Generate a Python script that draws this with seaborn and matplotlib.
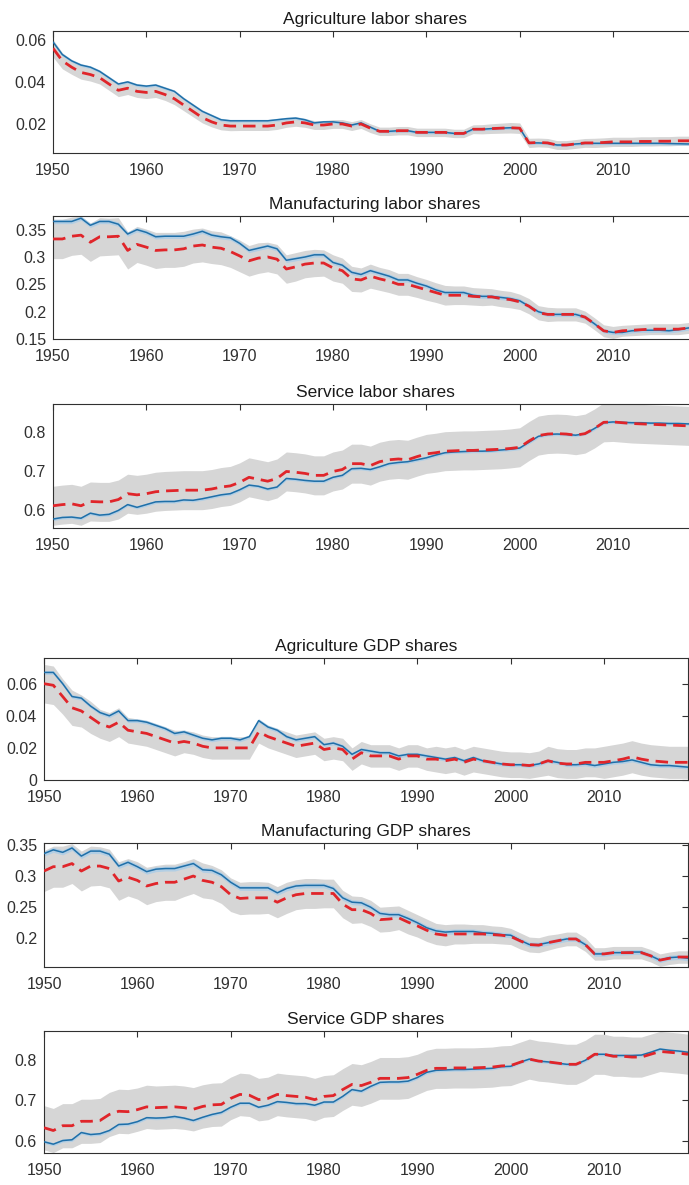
import numpy as np
import pandas as pd
import matplotlib
matplotlib.use("Agg")
import matplotlib.pyplot as plt
import seaborn as sns
from matplotlib.ticker import FuncFormatter

years = list(range(1950, 2020))

# ---------------- labor shares ----------------
ag_lab_blue = [0.059, 0.053, 0.050, 0.048, 0.047, 0.045, 0.042, 0.039, 0.040, 0.0385,
               0.038, 0.0385, 0.037, 0.0355, 0.032, 0.029, 0.026, 0.024, 0.022, 0.0215,
               0.0215, 0.0215, 0.0215, 0.0215, 0.022, 0.0225, 0.0228, 0.022, 0.0205, 0.021,
               0.021, 0.0205, 0.0195, 0.0205, 0.0185, 0.0165, 0.0165, 0.0168, 0.0168, 0.016,
               0.016, 0.016, 0.016, 0.0155, 0.0155, 0.0175, 0.0175, 0.0178, 0.018, 0.0182,
               0.018, 0.011, 0.011, 0.0108, 0.010, 0.010, 0.0105, 0.0108, 0.0108, 0.0108,
               0.0108, 0.0108, 0.0108, 0.0108, 0.0108, 0.0108, 0.0107, 0.0106, 0.0105, 0.0105]
ag_lab_red = [0.056, 0.050, 0.047, 0.0445, 0.0435, 0.042, 0.039, 0.036, 0.037, 0.0355,
              0.035, 0.0355, 0.034, 0.032, 0.029, 0.026, 0.023, 0.021, 0.0195, 0.019,
              0.019, 0.019, 0.019, 0.019, 0.0195, 0.0205, 0.021, 0.0205, 0.0195, 0.0195,
              0.020, 0.020, 0.019, 0.020, 0.018, 0.0165, 0.0165, 0.0168, 0.0168, 0.016,
              0.016, 0.016, 0.016, 0.0155, 0.0155, 0.0175, 0.0175, 0.0178, 0.018, 0.0182,
              0.018, 0.011, 0.0112, 0.011, 0.010, 0.010, 0.0105, 0.011, 0.011, 0.0112,
              0.0115, 0.0115, 0.0115, 0.0117, 0.0117, 0.0118, 0.0118, 0.012, 0.012, 0.012]
ag_lab_band = [0.0042, 0.0038, 0.0034, 0.0032, 0.0031, 0.0030, 0.0030, 0.0030, 0.0030, 0.0029,
               0.0029, 0.0029, 0.0028, 0.0028, 0.0027, 0.0026, 0.0025, 0.0024, 0.0023, 0.0022,
               0.0021, 0.0021, 0.0021, 0.0021, 0.0021, 0.0021, 0.0021, 0.0021, 0.0021, 0.0021,
               0.0021, 0.0021, 0.0021, 0.0021, 0.0021, 0.0020, 0.0020, 0.0020, 0.0020, 0.0020,
               0.0020, 0.0020, 0.0020, 0.0020, 0.0020, 0.0021, 0.0022, 0.0023, 0.0024, 0.0025,
               0.0025, 0.0022, 0.0021, 0.0021, 0.0021, 0.0021, 0.0021, 0.0021, 0.0022, 0.0022,
               0.0022, 0.0022, 0.0022, 0.0022, 0.0022, 0.0022, 0.0022, 0.0022, 0.0022, 0.0022]

mf_lab_blue = [0.365, 0.365, 0.365, 0.371, 0.358, 0.365, 0.365, 0.36, 0.342, 0.35,
               0.345, 0.337, 0.338, 0.338, 0.338, 0.342, 0.347, 0.34, 0.337, 0.335,
               0.325, 0.312, 0.316, 0.32, 0.315, 0.294, 0.297, 0.30, 0.304, 0.304,
               0.29, 0.285, 0.272, 0.268, 0.275, 0.27, 0.265, 0.258, 0.258, 0.252,
               0.247, 0.24, 0.235, 0.235, 0.235, 0.23, 0.228, 0.228, 0.226, 0.224,
               0.22, 0.21, 0.20, 0.195, 0.195, 0.195, 0.195, 0.19, 0.178, 0.165,
               0.162, 0.162, 0.165, 0.166, 0.166, 0.166, 0.165, 0.167, 0.17, 0.172]
mf_lab_red = [0.333, 0.333, 0.338, 0.34, 0.327, 0.337, 0.337, 0.338, 0.312, 0.323,
              0.318, 0.312, 0.313, 0.313, 0.315, 0.32, 0.322, 0.318, 0.316, 0.31,
              0.302, 0.293, 0.298, 0.30, 0.296, 0.278, 0.282, 0.287, 0.289, 0.289,
              0.28, 0.275, 0.26, 0.258, 0.265, 0.26, 0.256, 0.25, 0.25, 0.245,
              0.24, 0.235, 0.23, 0.23, 0.23, 0.228, 0.227, 0.227, 0.224, 0.222,
              0.218, 0.21, 0.198, 0.195, 0.195, 0.195, 0.195, 0.19, 0.178, 0.165,
              0.162, 0.165, 0.166, 0.167, 0.168, 0.168, 0.168, 0.168, 0.17, 0.172]
mf_lab_band = [0.036, 0.036, 0.035, 0.035, 0.035, 0.035, 0.034, 0.034, 0.034, 0.033,
               0.033, 0.033, 0.032, 0.032, 0.032, 0.031, 0.031, 0.030, 0.030, 0.029,
               0.029, 0.028, 0.028, 0.027, 0.027, 0.026, 0.026, 0.025, 0.025, 0.024,
               0.024, 0.023, 0.023, 0.022, 0.022, 0.021, 0.021, 0.020, 0.020, 0.019,
               0.019, 0.018, 0.018, 0.017, 0.017, 0.016, 0.016, 0.015, 0.015, 0.015,
               0.014, 0.014, 0.013, 0.013, 0.012, 0.012, 0.012, 0.011, 0.011, 0.011,
               0.011, 0.010, 0.010, 0.010, 0.010, 0.010, 0.010, 0.010, 0.010, 0.010]

sv_lab_blue = [0.578, 0.582, 0.583, 0.580, 0.593, 0.588, 0.590, 0.600, 0.615, 0.608,
               0.615, 0.622, 0.623, 0.623, 0.627, 0.626, 0.63, 0.635, 0.64, 0.643,
               0.653, 0.665, 0.662, 0.655, 0.66, 0.682, 0.68, 0.677, 0.675, 0.675,
               0.685, 0.69, 0.707, 0.708, 0.705, 0.712, 0.72, 0.723, 0.725, 0.73,
               0.735, 0.742, 0.748, 0.75, 0.751, 0.752, 0.752, 0.753, 0.755, 0.757,
               0.76, 0.775, 0.79, 0.795, 0.796, 0.795, 0.793, 0.797, 0.81, 0.825,
               0.827, 0.826, 0.825, 0.825, 0.824, 0.824, 0.823, 0.823, 0.822, 0.822]
sv_lab_red = [0.612, 0.615, 0.617, 0.612, 0.623, 0.622, 0.622, 0.628, 0.643, 0.64,
              0.643, 0.648, 0.65, 0.651, 0.652, 0.652, 0.652, 0.655, 0.66, 0.663,
              0.672, 0.685, 0.68, 0.675, 0.682, 0.70, 0.698, 0.695, 0.69, 0.69,
              0.70, 0.705, 0.72, 0.72, 0.715, 0.725, 0.73, 0.732, 0.73, 0.738,
              0.745, 0.748, 0.752, 0.753, 0.754, 0.754, 0.755, 0.756, 0.757, 0.759,
              0.762, 0.778, 0.792, 0.796, 0.797, 0.796, 0.793, 0.797, 0.81, 0.826,
              0.827, 0.825, 0.823, 0.822, 0.821, 0.820, 0.819, 0.818, 0.817, 0.815]
sv_lab_band = [0.050, 0.050, 0.050, 0.050, 0.050, 0.050, 0.050, 0.050, 0.050, 0.050,
               0.050, 0.050, 0.050, 0.050, 0.050, 0.050, 0.050, 0.050, 0.050, 0.050,
               0.050, 0.050, 0.050, 0.050, 0.050, 0.050, 0.050, 0.050, 0.050, 0.050,
               0.050, 0.050, 0.050, 0.050, 0.050, 0.050, 0.050, 0.050, 0.050, 0.050,
               0.050, 0.050, 0.050, 0.050, 0.050, 0.050, 0.050, 0.050, 0.050, 0.050,
               0.050, 0.050, 0.050, 0.050, 0.050, 0.050, 0.050, 0.050, 0.050, 0.050,
               0.050, 0.050, 0.050, 0.050, 0.050, 0.050, 0.050, 0.050, 0.050, 0.050]

# ---------------- GDP shares ----------------
ag_gdp_blue = [0.067, 0.067, 0.060, 0.052, 0.051, 0.046, 0.042, 0.040, 0.043, 0.037,
               0.037, 0.036, 0.034, 0.032, 0.029, 0.030, 0.028, 0.026, 0.025, 0.026,
               0.026, 0.025, 0.027, 0.037, 0.033, 0.031, 0.027, 0.025, 0.026, 0.027,
               0.022, 0.023, 0.021, 0.016, 0.019, 0.018, 0.017, 0.017, 0.015, 0.016,
               0.016, 0.015, 0.014, 0.013, 0.014, 0.012, 0.014, 0.012, 0.011, 0.010,
               0.0095, 0.0095, 0.009, 0.010, 0.012, 0.011, 0.0095, 0.0095, 0.010, 0.009,
               0.010, 0.011, 0.0115, 0.0125, 0.011, 0.0095, 0.009, 0.009, 0.0085, 0.008]
ag_gdp_red = [0.060, 0.059, 0.052, 0.045, 0.043, 0.039, 0.035, 0.033, 0.036, 0.031,
              0.030, 0.029, 0.027, 0.025, 0.023, 0.024, 0.023, 0.021, 0.020, 0.020,
              0.020, 0.020, 0.020, 0.030, 0.027, 0.025, 0.023, 0.021, 0.022, 0.023,
              0.019, 0.020, 0.019, 0.013, 0.017, 0.015, 0.015, 0.015, 0.013, 0.015,
              0.015, 0.013, 0.013, 0.012, 0.013, 0.011, 0.013, 0.012, 0.011, 0.010,
              0.0095, 0.0095, 0.009, 0.010, 0.012, 0.0105, 0.010, 0.010, 0.011, 0.011,
              0.011, 0.012, 0.013, 0.0145, 0.013, 0.012, 0.0115, 0.011, 0.011, 0.011]
ag_gdp_band = [0.012, 0.012, 0.011, 0.011, 0.010, 0.010, 0.009, 0.009, 0.009, 0.008,
               0.008, 0.008, 0.008, 0.008, 0.008, 0.007, 0.007, 0.007, 0.007, 0.007,
               0.007, 0.007, 0.007, 0.007, 0.007, 0.007, 0.007, 0.007, 0.007, 0.007,
               0.007, 0.007, 0.007, 0.007, 0.007, 0.007, 0.007, 0.007, 0.007, 0.007,
               0.007, 0.007, 0.008, 0.008, 0.008, 0.008, 0.008, 0.008, 0.008, 0.008,
               0.008, 0.008, 0.008, 0.008, 0.009, 0.009, 0.009, 0.009, 0.009, 0.009,
               0.010, 0.010, 0.010, 0.010, 0.010, 0.010, 0.010, 0.010, 0.010, 0.010]

mf_gdp_blue = [0.336, 0.342, 0.338, 0.345, 0.332, 0.34, 0.34, 0.335, 0.316, 0.322,
               0.315, 0.307, 0.311, 0.312, 0.312, 0.316, 0.32, 0.31, 0.309, 0.302,
               0.29, 0.281, 0.281, 0.281, 0.281, 0.273, 0.28, 0.284, 0.285, 0.285,
               0.285, 0.28, 0.265, 0.258, 0.257, 0.25, 0.24, 0.238, 0.238, 0.232,
               0.225, 0.217, 0.212, 0.21, 0.211, 0.211, 0.211, 0.209, 0.208, 0.206,
               0.205, 0.197, 0.19, 0.19, 0.193, 0.196, 0.199, 0.199, 0.19, 0.175,
               0.175, 0.177, 0.177, 0.178, 0.178, 0.172, 0.165, 0.169, 0.17, 0.168]
mf_gdp_red = [0.308, 0.315, 0.315, 0.32, 0.308, 0.316, 0.316, 0.312, 0.292, 0.298,
              0.293, 0.284, 0.288, 0.29, 0.29, 0.295, 0.30, 0.293, 0.29, 0.283,
              0.27, 0.264, 0.265, 0.265, 0.265, 0.258, 0.265, 0.27, 0.272, 0.272,
              0.272, 0.272, 0.255, 0.246, 0.246, 0.24, 0.23, 0.231, 0.233, 0.226,
              0.22, 0.213, 0.207, 0.205, 0.207, 0.207, 0.207, 0.207, 0.206, 0.205,
              0.203, 0.196, 0.19, 0.189, 0.193, 0.196, 0.199, 0.199, 0.19, 0.175,
              0.175, 0.177, 0.177, 0.177, 0.177, 0.172, 0.165, 0.168, 0.17, 0.17]
mf_gdp_band = [0.033, 0.033, 0.033, 0.032, 0.032, 0.032, 0.031, 0.031, 0.031, 0.030,
               0.030, 0.030, 0.029, 0.029, 0.029, 0.028, 0.028, 0.028, 0.027, 0.027,
               0.027, 0.026, 0.026, 0.026, 0.025, 0.025, 0.025, 0.024, 0.024, 0.024,
               0.023, 0.023, 0.022, 0.022, 0.021, 0.021, 0.020, 0.020, 0.019, 0.019,
               0.018, 0.018, 0.017, 0.017, 0.016, 0.016, 0.015, 0.015, 0.014, 0.014,
               0.013, 0.013, 0.012, 0.012, 0.012, 0.011, 0.011, 0.011, 0.011, 0.010,
               0.010, 0.010, 0.010, 0.010, 0.010, 0.010, 0.010, 0.010, 0.010, 0.010]

sv_gdp_blue = [0.597, 0.591, 0.60, 0.602, 0.62, 0.615, 0.617, 0.625, 0.64, 0.641,
               0.647, 0.657, 0.656, 0.657, 0.66, 0.656, 0.65, 0.658, 0.665, 0.67,
               0.683, 0.693, 0.693, 0.683, 0.688, 0.697, 0.695, 0.692, 0.692, 0.688,
               0.696, 0.696, 0.71, 0.727, 0.723, 0.735, 0.745, 0.746, 0.746, 0.748,
               0.757, 0.77, 0.775, 0.776, 0.777, 0.777, 0.778, 0.779, 0.78, 0.784,
               0.785, 0.795, 0.803, 0.798, 0.796, 0.793, 0.79, 0.79, 0.80, 0.815,
               0.815, 0.812, 0.812, 0.812, 0.813, 0.82, 0.828, 0.825, 0.823, 0.82]
sv_gdp_red = [0.632, 0.625, 0.637, 0.637, 0.648, 0.648, 0.65, 0.665, 0.673, 0.672,
              0.677, 0.684, 0.682, 0.683, 0.684, 0.682, 0.678, 0.685, 0.689, 0.69,
              0.705, 0.715, 0.713, 0.702, 0.705, 0.715, 0.712, 0.71, 0.708, 0.702,
              0.71, 0.712, 0.727, 0.74, 0.737, 0.745, 0.755, 0.755, 0.755, 0.757,
              0.765, 0.775, 0.78, 0.78, 0.781, 0.781, 0.781, 0.782, 0.783, 0.786,
              0.787, 0.795, 0.803, 0.798, 0.796, 0.793, 0.79, 0.79, 0.80, 0.815,
              0.815, 0.81, 0.81, 0.808, 0.808, 0.815, 0.822, 0.82, 0.818, 0.815]
sv_gdp_band = [0.055, 0.055, 0.055, 0.055, 0.055, 0.055, 0.055, 0.055, 0.055, 0.055,
               0.054, 0.054, 0.054, 0.054, 0.054, 0.054, 0.054, 0.054, 0.054, 0.054,
               0.053, 0.053, 0.053, 0.053, 0.053, 0.053, 0.053, 0.053, 0.053, 0.053,
               0.052, 0.052, 0.052, 0.052, 0.052, 0.052, 0.052, 0.052, 0.052, 0.052,
               0.050, 0.050, 0.050, 0.050, 0.050, 0.050, 0.050, 0.050, 0.050, 0.050,
               0.050, 0.050, 0.050, 0.050, 0.050, 0.050, 0.050, 0.050, 0.050, 0.050,
               0.050, 0.050, 0.050, 0.050, 0.050, 0.050, 0.050, 0.050, 0.050, 0.050]

titles = ["Agriculture labor shares", "Manufacturing labor shares", "Service labor shares",
          "Agriculture GDP shares", "Manufacturing GDP shares", "Service GDP shares"]
blues = [ag_lab_blue, mf_lab_blue, sv_lab_blue, ag_gdp_blue, mf_gdp_blue, sv_gdp_blue]
reds = [ag_lab_red, mf_lab_red, sv_lab_red, ag_gdp_red, mf_gdp_red, sv_gdp_red]
bands = [ag_lab_band, mf_lab_band, sv_lab_band, ag_gdp_band, mf_gdp_band, sv_gdp_band]
blue_halo = [0.0007, 0.004, 0.004, 0.0012, 0.004, 0.004]
ylims = [(0.0062, 0.0642), (0.15, 0.375), (0.555, 0.873),
         (0.0, 0.076), (0.154, 0.353), (0.569, 0.873)]
yticks = [[0.02, 0.04, 0.06], [0.15, 0.2, 0.25, 0.3, 0.35], [0.6, 0.7, 0.8],
          [0, 0.02, 0.04, 0.06], [0.2, 0.25, 0.3, 0.35], [0.6, 0.7, 0.8]]
xticks = [1950, 1960, 1970, 1980, 1990, 2000, 2010]

sns.set_style("white")
plt.rcParams['font.family'] = ['Liberation Sans', 'DejaVu Sans']

fig = plt.figure(figsize=(6.89, 11.85), dpi=100)
W, H = 689.0, 1185.0
# pixel boxes: (left, top, bottom)
boxes = [(53, 31, 153), (53, 216, 339), (53, 404, 528),
         (44, 658, 780), (44, 843, 967), (44, 1031, 1153)]
axw = 644

tick_col = "#303030"
for i in range(6):
    l, t, b = boxes[i]
    ax = fig.add_axes([l / W, 1 - b / H, axw / W, (b - t) / H])
    df = pd.DataFrame({"year": years, "blue": blues[i], "red": reds[i], "band": bands[i]})
    ax.fill_between(df["year"], df["red"] - df["band"], df["red"] + df["band"],
                    color="#d6d6d6", lw=0, zorder=1)
    ax.fill_between(df["year"], df["blue"] - blue_halo[i], df["blue"] + blue_halo[i],
                    color="#a9cde8", lw=0, alpha=0.8, zorder=2)
    sns.lineplot(data=df, x="year", y="blue", ax=ax, color="#1f6fa8", lw=1.1, zorder=3)
    sns.lineplot(data=df, x="year", y="red", ax=ax, color="#e0252a", lw=2.0, zorder=4)
    ax.lines[-1].set_dashes([4.5, 2.5])
    ax.set_xlim(1950, 2019)
    ax.set_ylim(*ylims[i])
    ax.set_xticks(xticks)
    ax.set_yticks(yticks[i])
    ax.yaxis.set_major_formatter(FuncFormatter(lambda v, p: "%g" % round(v, 4)))
    ax.set_xlabel("")
    ax.set_ylabel("")
    ax.tick_params(direction="in", length=4, width=0.8, top=True, right=True,
                   labelsize=11.5, colors=tick_col)
    ax.tick_params(axis="x", pad=7)
    ax.tick_params(axis="y", pad=5)
    for lab in ax.get_xticklabels() + ax.get_yticklabels():
        lab.set_color(tick_col)
    for sp in ax.spines.values():
        sp.set_color(tick_col)
        sp.set_linewidth(0.8)
        sp.set_visible(True)
    ax.set_title(titles[i], fontsize=12.5, color="#1a1a1a", pad=5)

fig.savefig("out.png", dpi=100)
